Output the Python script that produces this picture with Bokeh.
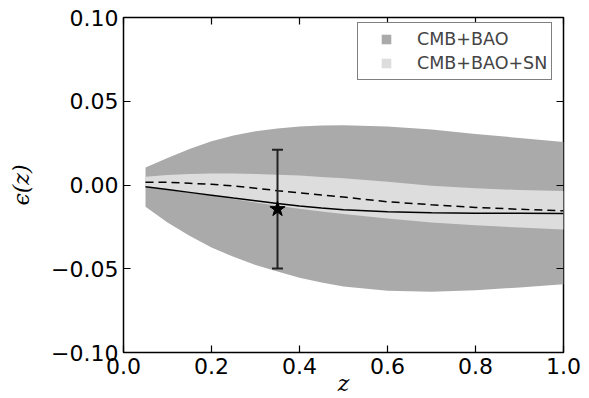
import math
from bokeh.plotting import figure
from bokeh.models import (LinearAxis, FixedTicker, CustomJSTickFormatter, Legend,
                          LegendItem, Range1d, ColumnDataSource)
from bokeh.embed import file_html
from bokeh.resources import INLINE

# ---- data ----
z = [0.05, 0.10, 0.15, 0.20, 0.25, 0.30, 0.35, 0.40, 0.45, 0.50, 0.60, 0.70, 0.80, 0.90, 1.00]

cmb_bao_upper = [0.0105, 0.0161, 0.0215, 0.0261, 0.0295, 0.0321, 0.0337, 0.0349, 0.0355, 0.0357,
                 0.0350, 0.0331, 0.0305, 0.0281, 0.0257]
cmb_bao_lower = [-0.0130, -0.0224, -0.0303, -0.0373, -0.0429, -0.0477, -0.0517, -0.0553, -0.0582,
                 -0.0606, -0.0632, -0.0638, -0.0628, -0.0612, -0.0592]

sn_upper = [0.0050, 0.0060, 0.0066, 0.0069, 0.0068, 0.0066, 0.0061, 0.0056, 0.0048, 0.0040,
            0.0020, -0.0004, -0.0020, -0.0030, -0.0036]
sn_lower = [-0.0014, -0.0030, -0.0047, -0.0064, -0.0083, -0.0104, -0.0124, -0.0142, -0.0158,
            -0.0173, -0.0200, -0.0224, -0.0240, -0.0254, -0.0265]

dashed_line = [0.0016, 0.0016, 0.0010, 0.0004, -0.0006, -0.0019, -0.0034, -0.0047, -0.0060,
               -0.0072, -0.0100, -0.0118, -0.0134, -0.0145, -0.0154]
solid_line = [-0.0010, -0.0027, -0.0044, -0.0061, -0.0078, -0.0094, -0.0110, -0.0125, -0.0138,
              -0.0148, -0.0160, -0.0166, -0.0168, -0.0169, -0.0170]

point_z = [0.35]
point_eps = [-0.0144]
point_upper = [0.0211]
point_lower = [-0.0499]

x_ticks = [0.0, 0.2, 0.4, 0.6, 0.8, 1.0]
y_ticks = [-0.10, -0.05, 0.00, 0.05, 0.10]
legend_labels = ["CMB+BAO", "CMB+BAO+SN"]
colors = ["#aaaaaa", "#dddddd"]

# ---- figure ----
p = figure(width=589, height=398, output_backend="svg", toolbar_location=None,
           x_range=Range1d(0, 1), y_range=Range1d(-0.1, 0.1),
           min_border_left=123, min_border_right=26, min_border_top=17, min_border_bottom=46)
p.xgrid.visible = False
p.ygrid.visible = False
p.outline_line_color = "black"
p.outline_line_width = 1.5
p.background_fill_color = "white"
p.border_fill_color = "white"

p.varea(x=z, y1=cmb_bao_lower, y2=cmb_bao_upper, fill_color=colors[0], fill_alpha=1)
p.varea(x=z, y1=sn_lower, y2=sn_upper, fill_color=colors[1], fill_alpha=1)
p.line(z, dashed_line, line_color="black", line_width=1.5, line_dash="8 5")
p.line(z, solid_line, line_color="black", line_width=1.5)

src = ColumnDataSource(dict(x=point_z, y=point_eps, up=point_upper, lo=point_lower))
p.segment(x0="x", y0="lo", x1="x", y1="up", source=src, line_color="#222222", line_width=2)
p.scatter(x="x", y="up", source=src, marker="dash", size=11, line_color="#222222", line_width=2)
p.scatter(x="x", y="lo", source=src, marker="dash", size=11, line_color="#222222", line_width=2)
p.scatter(x="x", y="y", source=src, marker="star", size=16, fill_color="black",
          line_color="black")

# legend proxies
proxies = []
for c in colors:
    r = p.scatter(x=[float("nan")], y=[float("nan")], marker="square", fill_color=c,
                  line_color=None)
    proxies.append(r)
legend = Legend(items=[LegendItem(label=l, renderers=[r]) for l, r in zip(legend_labels, proxies)],
                location=(234, 272), margin=0, padding=4, spacing=0,
                glyph_width=48, glyph_height=24, label_height=24, label_standoff=7,
                label_text_font="DejaVu Sans", label_text_font_size="17.5px",
                border_line_color="black", border_line_width=1.2,
                background_fill_color="white", background_fill_alpha=1)
p.add_layout(legend, "center")

# axes
yfmt = "return (tick < -1e-9 ? '\u2212' : '') + Math.abs(tick).toFixed(2);"
xfmt = "return (tick < -1e-9 ? '\u2212' : '') + Math.abs(tick).toFixed(1);"
blank = "return '';"

def style(ax, ticks, fmt):
    ax.ticker = FixedTicker(ticks=ticks)
    ax.formatter = CustomJSTickFormatter(code=fmt)
    ax.major_tick_in = 7
    ax.major_tick_out = 0
    ax.minor_tick_line_color = None
    ax.major_tick_line_color = "black"
    ax.major_tick_line_width = 1.2
    ax.axis_line_color = None
    ax.major_label_text_font = "DejaVu Sans"
    ax.major_label_text_font_size = "22px"
    ax.major_label_text_color = "black"
    ax.major_label_standoff = 5

bottom = p.xaxis[0]
left = p.yaxis[0]
style(bottom, x_ticks, xfmt)
style(left, y_ticks, yfmt)
top = LinearAxis()
right = LinearAxis()
style(top, x_ticks, blank)
style(right, y_ticks, blank)
top.major_label_standoff = 0
right.major_label_standoff = 0
p.add_layout(top, "above")
p.add_layout(right, "right")

bottom.axis_label = "z"
left.axis_label = "\u03f5(z)"
for ax, so in ((bottom, -6), (left, 14)):
    ax.axis_label_text_font = "DejaVu Serif"
    ax.axis_label_text_font_style = "italic"
    ax.axis_label_text_font_size = "22px"
    ax.axis_label_text_color = "black"
    ax.axis_label_standoff = so

open("out.html", "w").write(file_html(p, INLINE))
